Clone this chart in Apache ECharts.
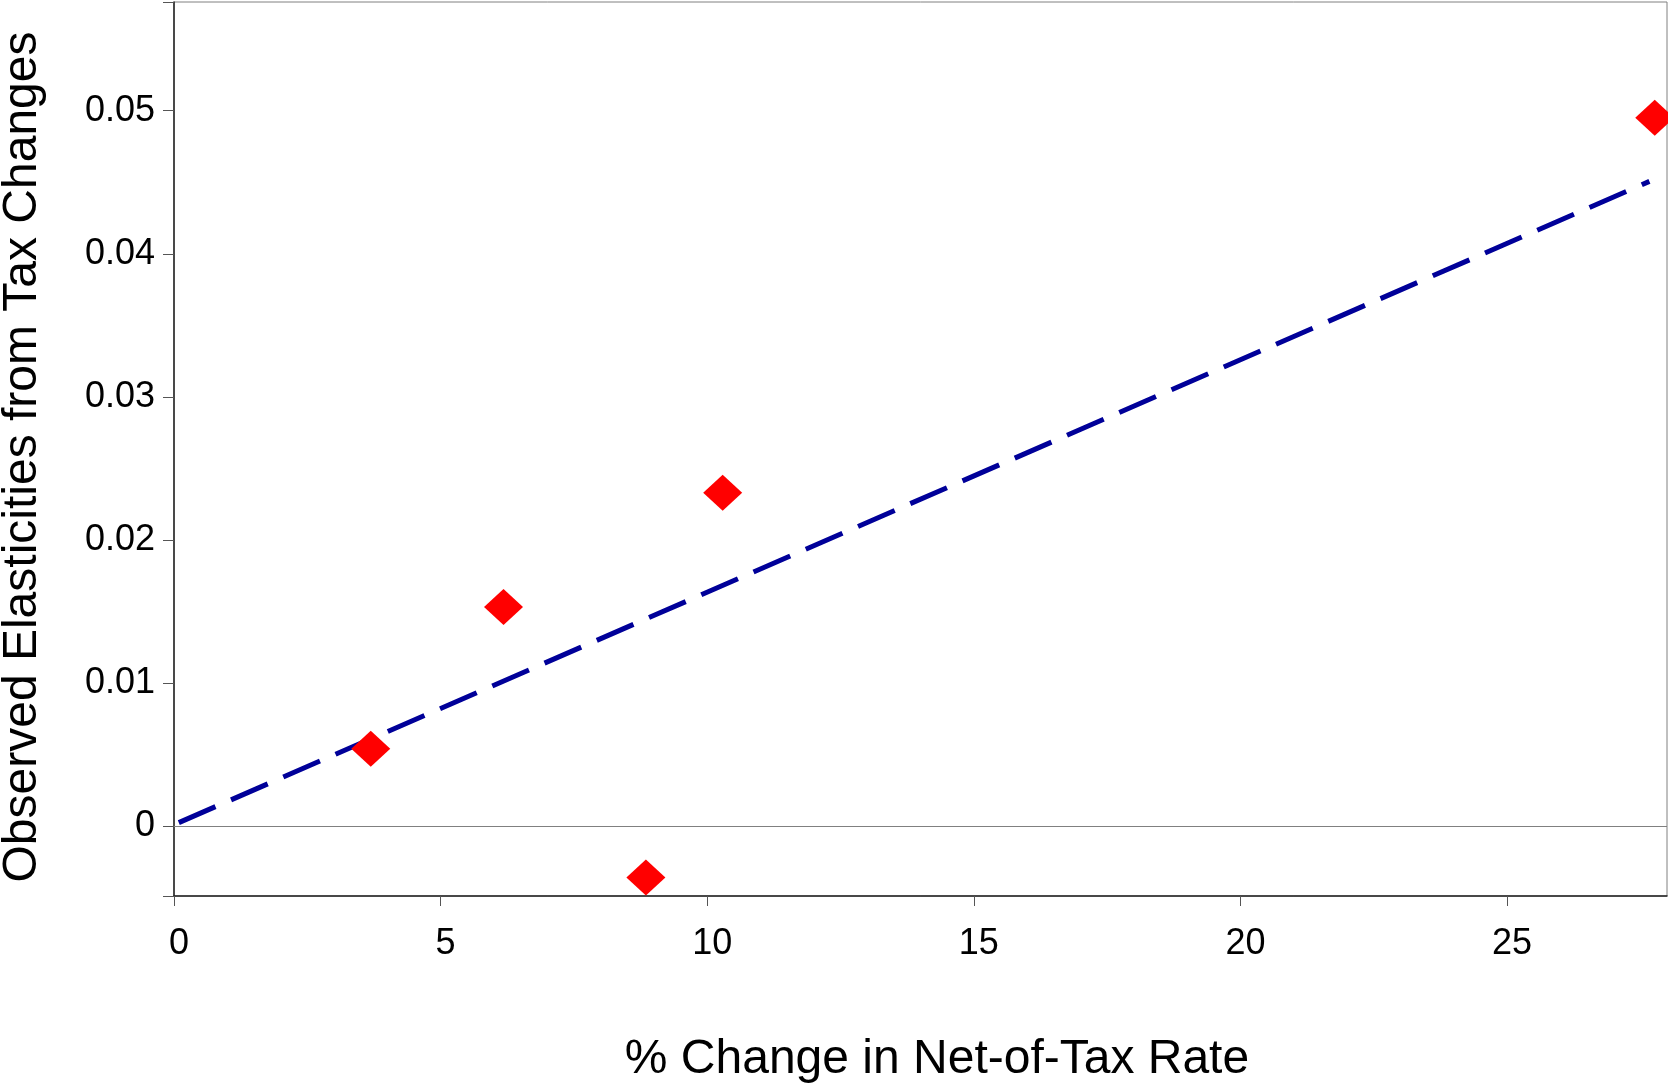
<!DOCTYPE html>
<html>
<head>
<meta charset="utf-8">
<script src="https://cdn.jsdelivr.net/npm/echarts@6/dist/echarts.min.js"></script>
<style>
html,body{margin:0;padding:0;background:#fff;}
#chart{width:1668px;height:1088px;}
</style>
</head>
<body>
<div id="chart"></div>
<script>
// Observed points: % change in net-of-tax rate vs observed elasticity
var pointX = [3.69, 6.18, 8.85, 10.29, 27.77];
var pointY = [0.0054, 0.0153, -0.0036, 0.0233, 0.0495];
// Fitted trend line endpoints
var trendX = [0.09, 27.67];
var trendY = [0.00023, 0.04506];
// Axis ticks
var xTicks = [0, 5, 10, 15, 20, 25];
var yTicks = [0, 0.01, 0.02, 0.03, 0.04, 0.05];
var yMin = -0.0049, yMax = 0.0576;
var xMin = 0, xMax = 28;

var scatterData = pointX.map(function (x, i) { return [x, pointY[i]]; });
var trendData = trendX.map(function (x, i) { return [x, trendY[i]]; });

var chart = echarts.init(document.getElementById('chart'), null, {renderer: 'canvas'});
var font = 'Liberation Sans, Arial, sans-serif';
chart.setOption({
  animation: false,
  backgroundColor: '#ffffff',
  grid: {left: 174, top: 2, right: 1, bottom: 192, show: true, borderColor: '#808080', borderWidth: 1,
    containLabel: false, outerBoundsMode: 'none'},
  xAxis: {
    type: 'value', min: xMin, max: xMax, interval: 5,
    name: '% Change in Net-of-Tax Rate', nameLocation: 'middle', nameGap: 140,
    nameTextStyle: {fontFamily: font, fontSize: 48, color: '#000', lineHeight: 48, padding: [0, 0, 0, 33]},
    axisLine: {show: true, onZero: false, lineStyle: {color: '#222', width: 1.5}},
    axisTick: {show: true, length: 10, lineStyle: {color: '#555'}, customValues: xTicks},
    axisLabel: {fontFamily: font, fontSize: 36, color: '#000', margin: 30, lineHeight: 36, padding: [0, 0, 0, 10], customValues: xTicks},
    splitLine: {show: false}
  },
  yAxis: {
    type: 'value', min: yMin, max: yMax,
    name: 'Observed Elasticities from Tax Changes', nameLocation: 'middle', nameGap: 127,
    nameTextStyle: {fontFamily: font, fontSize: 48, color: '#000', lineHeight: 48, padding: [0, 16, 0, 0]},
    axisLine: {show: true, onZero: false, lineStyle: {color: '#222', width: 1.5}},
    axisTick: {show: true, length: 11, lineStyle: {color: '#555'}, customValues: [yMin].concat(yTicks).concat([yMax])},
    axisLabel: {fontFamily: font, fontSize: 36, color: '#000', margin: 19, customValues: yTicks,
      formatter: function (v) { return String(+v.toFixed(2)); }},
    splitLine: {show: false}
  },
  series: [
    {
      type: 'line', data: trendData, symbol: 'none', silent: true, z: 3,
      lineStyle: {color: '#000099', width: 5, type: [40, 17]},
      markLine: {
        silent: true, symbol: 'none', label: {show: false},
        lineStyle: {color: '#808080', width: 1.2, type: 'solid'},
        data: [{yAxis: 0}]
      }
    },
    {
      type: 'scatter', data: scatterData, symbol: 'diamond', symbolSize: [39, 36], z: 4,
      itemStyle: {color: '#ff0000', opacity: 1}
    }
  ]
});
</script>
</body>
</html>
